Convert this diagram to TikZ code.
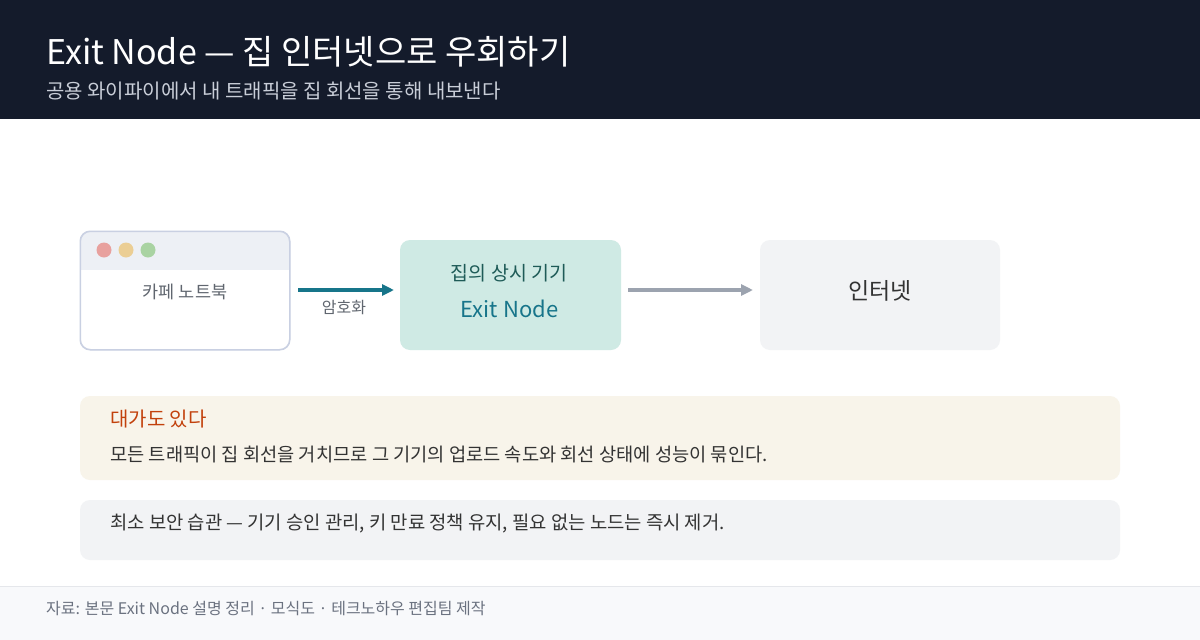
\documentclass[tikz,border=0pt]{standalone}
\usepackage{fontspec}
\setmainfont{Noto Sans CJK KR}
\usetikzlibrary{arrows.meta}
\definecolor{hdr}{HTML}{141B2B}
\definecolor{subc}{HTML}{C9CED8}
\definecolor{lapbd}{HTML}{C9D0E2}
\definecolor{lapbar}{HTML}{EDF0F5}
\definecolor{dotr}{HTML}{E8A19E}
\definecolor{doty}{HTML}{EBCE94}
\definecolor{dotg}{HTML}{A9D3A2}
\definecolor{teal}{HTML}{17758A}
\definecolor{exitfill}{HTML}{CFEAE4}
\definecolor{exittxt}{HTML}{1E5B57}
\definecolor{arrg}{HTML}{9CA3AF}
\definecolor{netfill}{HTML}{F2F3F5}
\definecolor{warnfill}{HTML}{F8F4EA}
\definecolor{warnttl}{HTML}{C2410C}
\definecolor{bodytxt}{HTML}{333333}
\definecolor{foot}{HTML}{F8F9FB}
\definecolor{footln}{HTML}{E5E7EB}
\definecolor{foottxt}{HTML}{6B7280}
\definecolor{graytxt}{HTML}{60666F}
\tikzset{
  x=1pt,y=-1pt,
  lbl/.style={inner sep=0pt, anchor=base west},
  flow/.style={line width=4pt, -{Triangle[length=12pt,width=11pt]}},
  fs/.style={font=\fontsize{#1}{#1}\selectfont}
}
\begin{document}
\begin{tikzpicture}
\useasboundingbox (0,0) rectangle (1200,640);
\fill[white] (0,0) rectangle (1200,640);
% header
\fill[hdr] (0,0) rectangle (1200,119);
\node[lbl, fs=34, text=white] (title) at (46,64) {Exit Node — 집 인터넷으로 우회하기};
\node[lbl, fs=20, text=subc] (sub) at (46,98) {공용 와이파이에서 내 트래픽을 집 회선을 통해 내보낸다};
% laptop
\node[draw=lapbd, line width=1pt, fill=white, rounded corners=10pt, minimum width=210pt, minimum height=119pt, inner sep=0pt] (lap) at (185,290.5) {};
\begin{scope}
\clip[rounded corners=10pt] (80.5,231.5) rectangle (289.5,349.5);
\fill[lapbar] (80,231) rectangle (290,270);
\end{scope}
\draw[lapbd, line width=1pt, rounded corners=10pt] (80.5,231.5) rectangle (289.5,349.5);
\fill[dotr] (104,250) circle (7.5);
\fill[doty] (126,250) circle (7.5);
\fill[dotg] (148,250) circle (7.5);
\node[fs=17.5, text=graytxt, inner sep=0pt] (laptxt) at (185,292) {카페 노트북};
% exit node
\node[fill=exitfill, rounded corners=10pt, minimum width=221pt, minimum height=110pt, inner sep=0pt] (exit) at (510.5,295) {};
\node[fs=19.5, text=exittxt, inner sep=0pt] (exit1) at (509,273) {집의 상시 기기};
\node[fs=22, text=teal, inner sep=0pt] (exit2) at (509.5,309) {Exit Node};
% internet
\node[fill=netfill, rounded corners=10pt, minimum width=240pt, minimum height=110pt, inner sep=0pt] (net) at (880,295) {};
\node[fs=23, text=bodytxt, inner sep=0pt] (nettxt) at (880,291) {인터넷};
% arrows
\coordinate (a1s) at (298,290);
\coordinate (a1e) at (394,290);
\draw[flow, teal] (a1s) -- (a1e);
\node[fs=16, text=graytxt, inner sep=0pt] (enc) at (344,308) {암호화};
\coordinate (a2s) at (628,290);
\coordinate (a2e) at (753,290);
\draw[flow, arrg] (a2s) -- (a2e);
% warning box
\fill[warnfill, rounded corners=10pt] (80,396) rectangle (1120,480);
\node[lbl, fs=20, text=warnttl] (warnt) at (110,426) {대가도 있다};
\node[lbl, fs=18.7, text=bodytxt] (warnb) at (110,461) {모든 트래픽이 집 회선을 거치므로 그 기기의 업로드 속도와 회선 상태에 성능이 묶인다.};
% habit box
\fill[netfill, rounded corners=10pt] (80,500) rectangle (1120,560);
\node[lbl, fs=18.8, text=bodytxt] (habit) at (110,529) {최소 보안 습관 — 기기 승인 관리, 키 만료 정책 유지, 필요 없는 노드는 즉시 제거.};
% footer
\fill[foot] (0,586) rectangle (1200,640);
\draw[footln, line width=1pt] (0,586) -- (1200,586);
\node[lbl, fs=16, text=foottxt] (src) at (46,614) {자료: 본문 Exit Node 설명 정리 · 모식도 · 테크노하우 편집팀 제작};
\end{tikzpicture}
\end{document}
